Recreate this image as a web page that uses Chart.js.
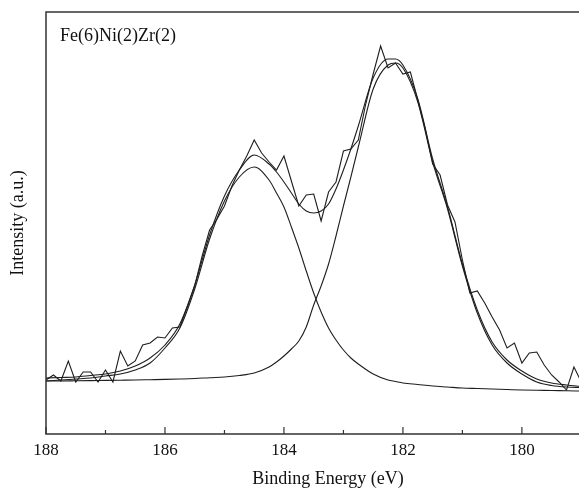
<!DOCTYPE html>
<html>
<head>
<meta charset="utf-8">
<script src="https://cdn.jsdelivr.net/npm/chart.js@4.4.1/dist/chart.umd.min.js"></script>
<style>
  html, body { margin: 0; padding: 0; background: #fff; }
  #wrap { width: 579px; height: 490px; }
</style>
</head>
<body>
<div id="wrap"><canvas id="xpsChart" width="579" height="490"></canvas></div>
<script>
// Measured spectrum (binding energy in eV, intensity in arbitrary units)
const expEnergy = [
  188.000, 187.875, 187.750, 187.625, 187.500, 187.375, 187.250, 187.125,
  187.000, 186.875, 186.750, 186.625, 186.500, 186.375, 186.250, 186.125,
  186.000, 185.875, 185.750, 185.625, 185.500, 185.375, 185.250, 185.125,
  185.000, 184.875, 184.750, 184.625, 184.500, 184.375, 184.250, 184.125,
  184.000, 183.875, 183.750, 183.625, 183.500, 183.375, 183.250, 183.125,
  183.000, 182.875, 182.750, 182.625, 182.500, 182.375, 182.250, 182.125,
  182.000, 181.875, 181.750, 181.625, 181.500, 181.375, 181.250, 181.125,
  181.000, 180.875, 180.750, 180.625, 180.500, 180.375, 180.250, 180.125,
  180.000, 179.875, 179.750, 179.625, 179.500, 179.375, 179.250, 179.125,
  179.000
];
const expIntensity = [
  54, 59, 53, 73, 52, 62, 62, 52,
  64, 52, 83, 68, 73, 89, 91, 97,
  96, 106, 107, 127, 148, 178, 204, 215,
  228, 248, 264, 278, 294, 281, 272, 264,
  278, 253, 228, 239, 240, 213, 242, 252,
  283, 285, 294, 330, 360, 388, 366, 371,
  360, 362, 334, 305, 270, 259, 229, 212,
  174, 141, 143, 131, 117, 104, 86, 91,
  71, 81, 82, 69, 59, 52, 44, 67,
  52
];

// Fitted curves
const fitEnergy = [
  188.00, 187.75, 187.50, 187.25, 187.00, 186.75, 186.50, 186.25,
  186.00, 185.75, 185.50, 185.25, 185.00, 184.75, 184.50, 184.25,
  184.125, 184.00, 183.875, 183.75, 183.625, 183.50, 183.375, 183.25,
  183.125, 183.00, 182.875, 182.75, 182.50, 182.25, 182.125, 182.00,
  181.75, 181.50, 181.25, 181.00, 180.75, 180.50, 180.25, 180.00,
  179.75, 179.50, 179.25, 179.00
];
const envelope = [
  56, 56.5, 57, 58.5, 60, 63, 68, 76,
  89, 110, 149, 199, 238, 264, 279, 270,
  262, 252, 241, 230, 223, 221, 223, 230,
  245, 264, 285, 308, 356, 375, 375, 369,
  335, 275, 227, 170, 124, 92, 74, 63,
  55, 51, 49, 47.5
];
const peakHigh = [
  53, 54, 55, 56, 58, 60, 64, 71,
  86, 106, 145, 195, 233, 257, 267, 254,
  241, 227, 207, 186, 163, 141, 122, 106,
  94, 84, 76, 70, 60, 54, 52.5, 51,
  49.5, 48, 47, 46, 45.5, 45, 44.5, 44,
  43.7, 43.5, 43.2, 43
];
const peakLow = [
  53, 53, 53.2, 53.4, 53.6, 53.8, 54, 54.3,
  54.6, 55, 55.5, 56.3, 57, 58.5, 61, 67,
  72, 78, 85, 93, 107, 129, 148, 170,
  198, 228, 257, 287, 345, 369, 371, 366,
  332, 272, 225, 168, 121, 89, 71, 60,
  52, 48.5, 47, 46.5
];

const majorTicks = [188, 186, 184, 182, 180];
const minorTicks = [187, 185, 183, 181, 179];
const sampleLabel = 'Fe(6)Ni(2)Zr(2)';
const xTitle = 'Binding Energy (eV)';

const serif = "'Liberation Serif', 'Times New Roman', serif";
const ink = '#1e1e1e';

function toPoints(xs, ys) {
  return xs.map((x, i) => ({ x: x, y: ys[i] }));
}

function fitDataset(values) {
  return {
    data: toPoints(fitEnergy, values),
    borderColor: ink,
    borderWidth: 1.1,
    pointRadius: 0,
    fill: false,
    cubicInterpolationMode: 'monotone'
  };
}

// frame, inward ticks, sample label and x title (original plot was cropped on the right)
const frameAndTicks = {
  id: 'frameAndTicks',
  afterDraw(chart) {
    const { ctx, chartArea: { left, top, right, bottom }, scales: { x } } = chart;
    ctx.save();
    ctx.strokeStyle = '#333';
    ctx.lineWidth = 1.5;
    ctx.beginPath();
    ctx.moveTo(right, top);
    ctx.lineTo(left, top);
    ctx.lineTo(left, bottom);
    ctx.lineTo(right, bottom);
    ctx.stroke();

    ctx.lineWidth = 1.2;
    majorTicks.forEach(v => {
      const px = x.getPixelForValue(v);
      ctx.beginPath();
      ctx.moveTo(px, bottom);
      ctx.lineTo(px, bottom - 7);
      ctx.stroke();
    });
    minorTicks.forEach(v => {
      const px = x.getPixelForValue(v);
      if (px > right) return;
      ctx.beginPath();
      ctx.moveTo(px, bottom);
      ctx.lineTo(px, bottom - 4);
      ctx.stroke();
    });

    ctx.fillStyle = '#111';
    ctx.font = '18px ' + serif;
    ctx.textBaseline = 'alphabetic';
    ctx.textAlign = 'left';
    ctx.fillText(sampleLabel, left + 14, top + 29);

    ctx.textAlign = 'center';
    ctx.fillText(xTitle, 328, 484);
    ctx.restore();
  }
};

new Chart(document.getElementById('xpsChart'), {
  type: 'line',
  data: {
    datasets: [
      {
        data: toPoints(expEnergy, expIntensity),
        borderColor: ink,
        borderWidth: 1.1,
        pointRadius: 0,
        fill: false,
        tension: 0
      },
      fitDataset(envelope),
      fitDataset(peakHigh),
      fitDataset(peakLow)
    ]
  },
  options: {
    responsive: false,
    animation: false,
    events: [],
    layout: { padding: { top: 12, right: 0, left: 0, bottom: 0 } },
    plugins: {
      legend: { display: false },
      tooltip: { enabled: false },
      title: { display: false }
    },
    scales: {
      x: {
        type: 'linear',
        reverse: true,
        min: 179.04,
        max: 188,
        grid: { display: false, drawTicks: false },
        border: { display: false },
        afterBuildTicks: s => { s.ticks = majorTicks.map(v => ({ value: v })); },
        afterFit: s => { s.height = 56; },
        ticks: {
          padding: 6,
          maxRotation: 0,
          autoSkip: false,
          color: '#111',
          font: { family: serif, size: 17 },
          callback: v => String(v)
        },
        title: { display: false }
      },
      y: {
        min: 0,
        max: 422,
        grid: { display: false, drawTicks: false },
        border: { display: false },
        ticks: { display: false },
        afterFit: s => { s.width = 46; },
        title: {
          display: true,
          text: 'Intensity (a.u.)',
          color: '#111',
          font: { family: serif, size: 18 },
          padding: { top: 7, bottom: 0 }
        }
      }
    }
  },
  plugins: [frameAndTicks]
});
</script>
</body>
</html>
